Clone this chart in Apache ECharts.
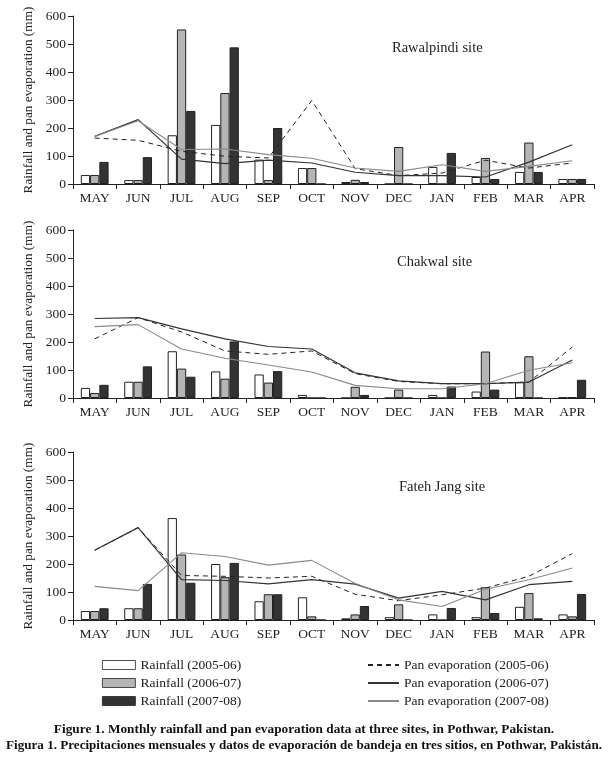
<!DOCTYPE html>
<html>
<head>
<meta charset="utf-8">
<script src="https://cdn.jsdelivr.net/npm/echarts@6/dist/echarts.min.js"></script>
<style>
html,body{margin:0;padding:0;background:#fff;}
#chart{width:608px;height:758px;}
</style>
</head>
<body>
<div id="chart"></div>
<script>
const months = ['MAY','JUN','JUL','AUG','SEP','OCT','NOV','DEC','JAN','FEB','MAR','APR'];
const yTicks = [0,100,200,300,400,500,600];

// Rawalpindi
const rainR0506 = [32,14,174,211,87,57,7,0,61,25,43,18];
const rainR0607 = [32,14,552,325,14,57,15,132,0,93,148,18];
const rainR0708 = [79,96,261,488,200,0,7,0,111,18,43,18];
const evapR0506 = [164,156,117,99,93,298,55,30,39,85,57,75];
const evapR0607 = [170,230,89,73,85,75,42,30,30,25,78,140];
const evapR0708 = [170,226,123,125,105,92,57,45,69,45,63,83];

// Chakwal
const rainC0506 = [36,58,167,95,84,11,0,0,11,23,56,2];
const rainC0607 = [18,58,105,69,55,0,40,30,0,166,149,3];
const rainC0708 = [47,113,76,202,96,0,11,0,41,30,0,65];
const evapC0506 = [211,287,236,168,156,168,87,59,51,51,57,182];
const evapC0607 = [284,287,247,211,184,175,90,61,51,51,57,136];
const evapC0708 = [255,262,175,142,118,93,45,33,33,51,99,126];

// Fateh Jang
const rainF0506 = [32,42,364,200,67,81,6,10,20,10,47,20];
const rainF0607 = [32,42,234,153,92,13,20,56,0,117,96,13];
const rainF0708 = [42,129,133,204,92,0,50,0,43,25,6,93];
const evapF0506 = [249,330,159,156,150,156,92,69,90,114,156,237];
const evapF0607 = [249,330,144,141,129,144,128,78,102,72,126,138];
const evapF0708 = [120,105,240,227,196,213,130,72,48,110,144,186];

const siteNames = ['Rawalpindi site','Chakwal site','Fateh Jang site'];
const rainNames = ['Rainfall (2005-06)','Rainfall (2006-07)','Rainfall (2007-08)'];
const evapNames = ['Pan evaporation (2005-06)','Pan evaporation (2006-07)','Pan evaporation (2007-08)'];
const caption1 = 'Figure 1. Monthly rainfall and pan evaporation data at three sites, in Pothwar, Pakistan.';
const caption2 = 'Figura 1. Precipitaciones mensuales y datos de evaporación de bandeja en tres sitios, en Pothwar, Pakistán.';

const sites = [
  {rain:[rainR0506,rainR0607,rainR0708], evap:[evapR0506,evapR0607,evapR0708]},
  {rain:[rainC0506,rainC0607,rainC0708], evap:[evapC0506,evapC0607,evapC0708]},
  {rain:[rainF0506,rainF0607,rainF0708], evap:[evapF0506,evapF0607,evapF0708]}
];

const FONT = 'Liberation Serif';
const gridTops = [16,230,452];
const gridH = 168;
const siteLabelTops = [41,255,480];
const siteLabelLefts = [392,397,399];

const barColors = ['#ffffff','#b5b5b5','#333333'];
const lineStyles = [
  {color:'#222', width:1, type:[5,4]},
  {color:'#333', width:1.2, type:'solid'},
  {color:'#8a8a8a', width:1.1, type:'solid'}
];

const grids=[], xAxes=[], yAxes=[], series=[], titles=[];
sites.forEach((s,i)=>{
  grids.push({left:73, right:14, top:gridTops[i], height:gridH, containLabel:false, outerBoundsMode:'none'});
  xAxes.push({
    type:'category', gridIndex:i, data:months, boundaryGap:true,
    axisLine:{lineStyle:{color:'#222', width:1}},
    axisTick:{show:true, inside:false, length:5, lineStyle:{color:'#222'}},
    axisLabel:{color:'#222', fontFamily:FONT, fontSize:13.5, margin:7}
  });
  yAxes.push({
    type:'value', gridIndex:i, min:0, max:600, interval:100,
    name:'Rainfall and pan evaporation (mm)', nameLocation:'middle', nameGap:27,
    nameTextStyle:{color:'#222', fontFamily:FONT, fontSize:13.3},
    axisLine:{show:true, lineStyle:{color:'#222', width:1}},
    axisTick:{show:true, length:5, lineStyle:{color:'#222'}},
    axisLabel:{color:'#222', fontFamily:FONT, fontSize:13.5, margin:7},
    splitLine:{show:false}
  });
  s.rain.forEach((d,k)=>{
    series.push({
      type:'bar', name:rainNames[k], xAxisIndex:i, yAxisIndex:i, data:d,
      barGap:'0%', barCategoryGap:'36%',
      itemStyle:{color:barColors[k], borderColor:'#222', borderWidth:1},
      emphasis:{disabled:true}, animation:false
    });
  });
  s.evap.forEach((d,k)=>{
    series.push({
      type:'line', name:evapNames[k], xAxisIndex:i, yAxisIndex:i, data:d,
      symbol:'none', showSymbol:false, smooth:false,
      lineStyle:lineStyles[k], itemStyle:{color:lineStyles[k].color},
      emphasis:{disabled:true}, animation:false, z:3
    });
  });
  titles.push({text:siteNames[i], left:siteLabelLefts[i], top:siteLabelTops[i], padding:0,
    textStyle:{fontFamily:FONT, fontSize:14.5, fontWeight:'normal', color:'#222'}});
});
titles.push({text:caption1, left:'center', top:723, padding:0,
  textStyle:{fontFamily:FONT, fontSize:13.3, fontWeight:'bold', color:'#111'}});
titles.push({text:caption2, left:'center', top:739, padding:0,
  textStyle:{fontFamily:FONT, fontSize:13.1, fontWeight:'bold', color:'#111'}});

const chart = echarts.init(document.getElementById('chart'), null, {renderer:'canvas'});
chart.setOption({
  backgroundColor:'#fff',
  animation:false,
  title:titles,
  grid:grids, xAxis:xAxes, yAxis:yAxes, series:series,
  legend:[
    {data:rainNames, orient:'vertical', left:102, top:658, padding:0, itemWidth:33, itemHeight:9, itemGap:4,
     icon:'rect', selectedMode:false,
     itemStyle:{borderWidth:0.8},
     textStyle:{fontFamily:FONT, fontSize:13.5, color:'#222'}},
    {data:evapNames, orient:'vertical', left:367, top:658, padding:0, itemWidth:31, itemHeight:9, itemGap:4,
     selectedMode:false,
     itemStyle:{opacity:0},
     textStyle:{fontFamily:FONT, fontSize:13.5, color:'#222'}}
  ]
});
</script>
</body>
</html>
